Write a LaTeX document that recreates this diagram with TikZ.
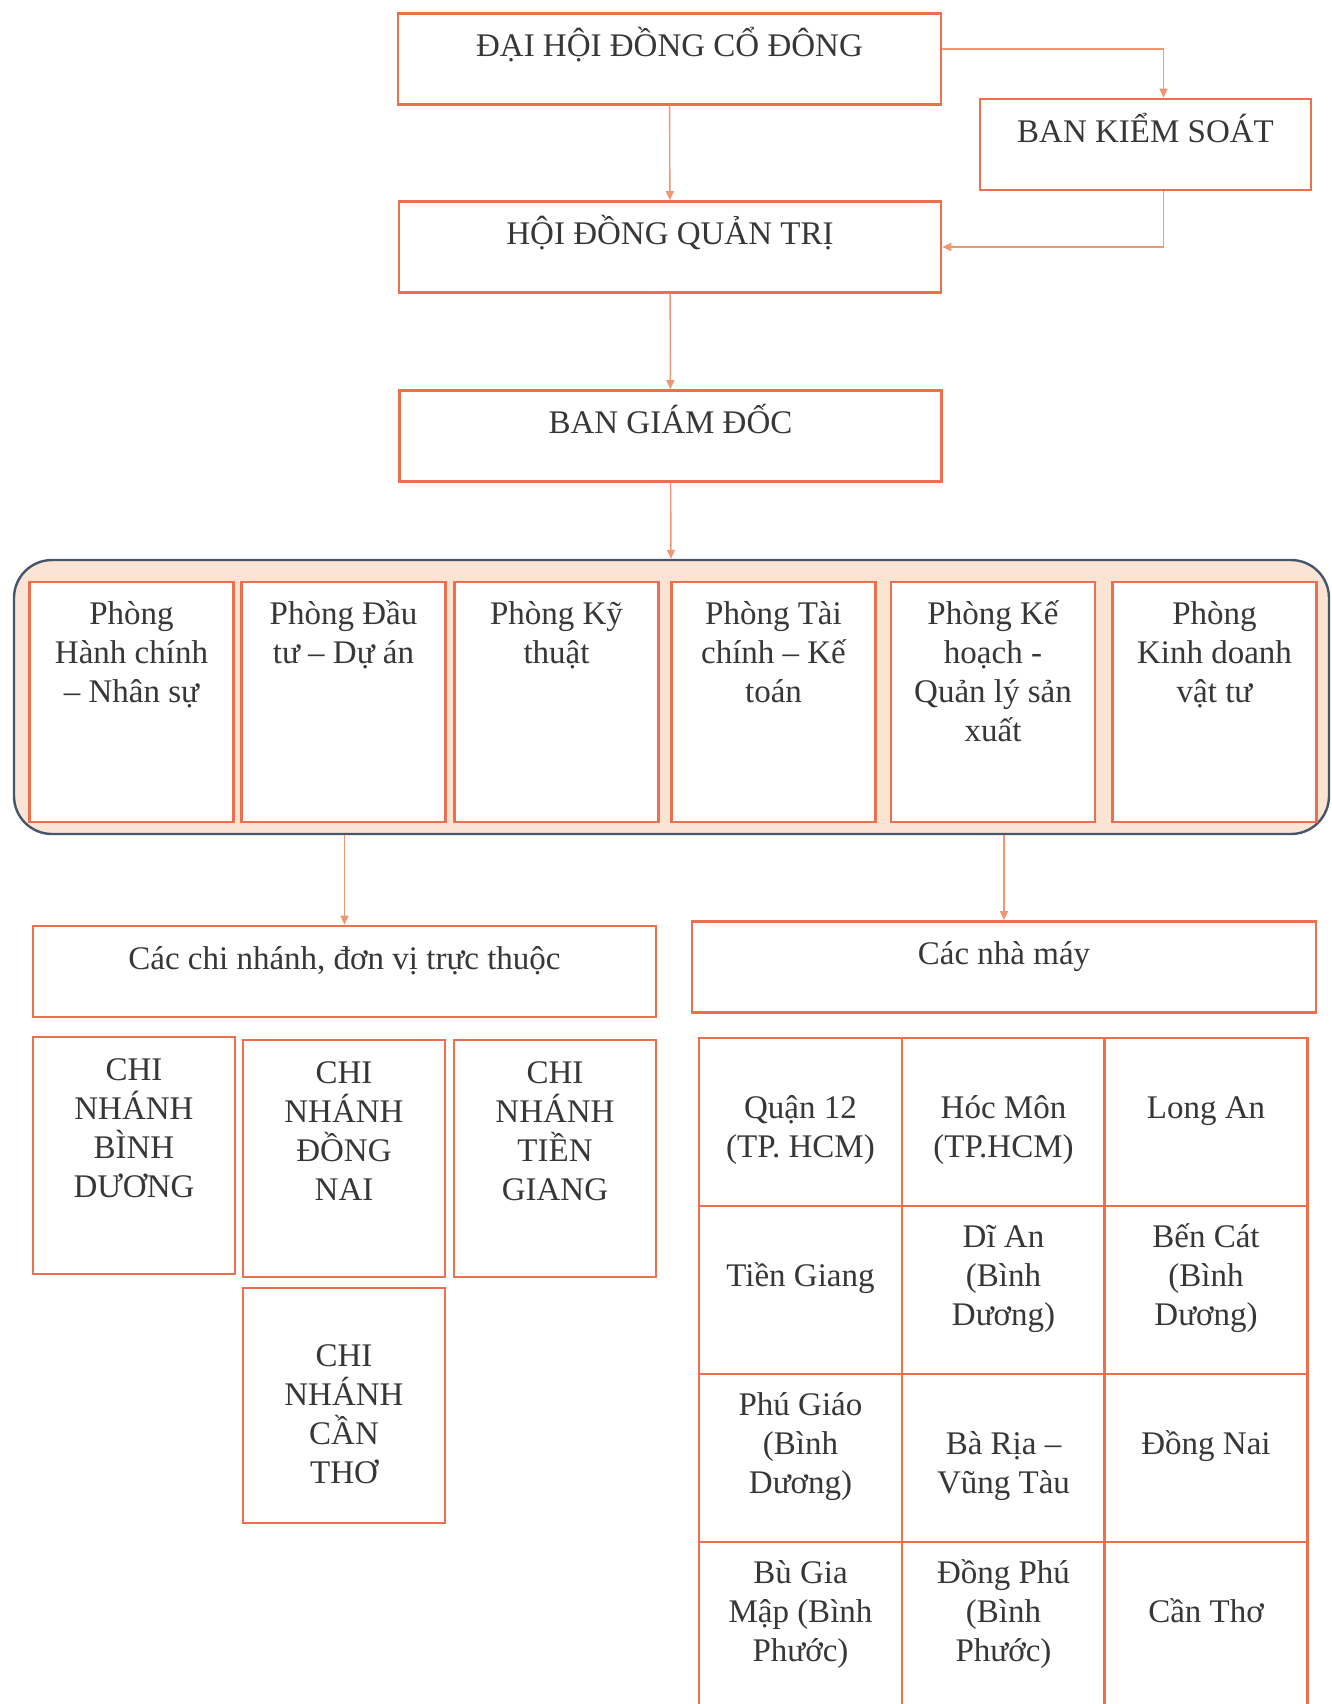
\documentclass[tikz,border=0pt]{standalone}
\usepackage{fontspec}
\setmainfont{Liberation Serif}
\usetikzlibrary{arrows.meta,positioning}
\definecolor{myorange}{RGB}{236,112,78}
\definecolor{mysalmon}{RGB}{240,150,115}
\definecolor{mypeach}{RGB}{252,228,212}
\definecolor{myslate}{RGB}{70,85,105}
\definecolor{mytext}{RGB}{55,55,55}
\newcommand{\boxfont}{\fontsize{16.5pt}{19.5pt}\selectfont}
\tikzset{
  orgbox/.style={draw=myorange,line width=1.3pt,fill=white,inner sep=0pt,align=center,text=mytext,font=\boxfont},
  titlebox/.style={orgbox,minimum width=#1,text height=21.5pt,text depth=24pt},
  deptbox/.style 2 args={orgbox,minimum width=102pt,text height=#1,text depth=#2},
  branchbox/.style 2 args={orgbox,minimum width=101pt,text height=#1,text depth=#2},
  cellone/.style={orgbox,minimum width=101.5pt,text height=40pt,text depth=44pt},
  cellmany/.style={orgbox,minimum width=101.5pt,text height=59.5pt,text depth=24.5pt},
}
\begin{document}
\begin{tikzpicture}[x=0.5pt,y=-0.5pt,
    arr/.style={-{Triangle[length=4.5pt,width=4pt]},draw=mysalmon,line width=0.7pt},
  ]
  \useasboundingbox (0,0) rectangle (1332,1704);

  % Top management
  \node[titlebox=271.5pt] (dhd) at (669.5,59) {ĐẠI HỘI ĐỒNG CỔ ĐÔNG};
  \node[titlebox=165.5pt] (bks) at (1145.5,144.5) {BAN KIỂM SOÁT};
  \node[titlebox=271pt] (hdqt) at (670,247) {HỘI ĐỒNG QUẢN TRỊ};
  \node[titlebox=271pt] (bgd) at (670.5,436) {BAN GIÁM ĐỐC};
  \draw[arr] ([yshift=5pt]dhd.east) -| ([xshift=9pt]bks.north);
  \draw[arr] ([xshift=9pt]bks.south) |- (hdqt.east);
  \draw[arr] (dhd) -- (hdqt);
  \draw[arr] (hdqt) -- (bgd);

  % Departments
  \node[draw=myslate,line width=1.2pt,fill=mypeach,rounded corners=19pt,minimum width=657.5pt,minimum height=137pt] (depts) at (671.5,697) {};
  \draw[arr] (bgd) -- (depts);
  \node[deptbox={60pt}{60pt}] (hcns) at (131.5,702) {Phòng\\Hành chính\\– Nhân sự};
  \node[deptbox={40.5pt}{79.5pt}] (dtda) at (343.5,702) {Phòng Đầu\\tư – Dự án};
  \node[deptbox={40.5pt}{79.5pt}] (kt) at (556.5,702) {Phòng Kỹ\\thuật};
  \node[deptbox={60pt}{60pt}] (tckt) at (773.5,702) {Phòng Tài\\chính – Kế\\toán};
  \node[deptbox={79.5pt}{40.5pt}] (khsx) at (993,702) {Phòng Kế\\hoạch -\\Quản lý sản\\xuất};
  \node[deptbox={60pt}{60pt}] (kdvt) at (1214.5,702) {Phòng\\Kinh doanh\\vật tư};

  % Branches
  \node[titlebox=311.5pt] (cn) at (344.5,971.5) {Các chi nhánh, đơn vị trực thuộc};
  \draw[arr] (cn.north |- depts.south) -- (cn.north);
  \node[branchbox={80pt}{38.5pt}] (cnbd) at (134,1155.5) {CHI\\NHÁNH\\BÌNH\\DƯƠNG};
  \node[branchbox={80pt}{38.5pt}] (cndn) at (344,1158.5) {CHI\\NHÁNH\\ĐỒNG\\NAI};
  \node[branchbox={80pt}{38.5pt}] (cntg) at (555,1158.5) {CHI\\NHÁNH\\TIỀN\\GIANG};
  \node[branchbox={97.5pt}{20pt}] (cnct) at (344,1405.5) {CHI\\NHÁNH\\CẦN\\THƠ};

  % Factories
  \node[titlebox=312pt] (nm) at (1004,967) {Các nhà máy};
  \draw[arr] (nm.north |- depts.south) -- (nm.north);
  \node[cellmany] (q12) at (800.5,1122) {Quận 12\\(TP. HCM)};
  \node[cellmany] (hm) at (1003.5,1122) {Hóc Môn\\(TP.HCM)};
  \node[cellone] (la) at (1206,1122) {Long An};
  \node[cellone] (tg) at (800.5,1290) {Tiền Giang};
  \node[cellmany] (da) at (1003.5,1290) {Dĩ An\\(Bình\\Dương)};
  \node[cellmany] (bc) at (1206,1290) {Bến Cát\\(Bình\\Dương)};
  \node[cellmany] (pg) at (800.5,1458) {Phú Giáo\\(Bình\\Dương)};
  \node[cellmany] (brvt) at (1003.5,1458) {Bà Rịa –\\Vũng Tàu};
  \node[cellone] (dn) at (1206,1458) {Đồng Nai};
  \node[cellmany] (bgm) at (800.5,1626) {Bù Gia\\Mập (Bình\\Phước)};
  \node[cellmany] (dp) at (1003.5,1626) {Đồng Phú\\(Bình\\Phước)};
  \node[cellone] (ct) at (1206,1626) {Cần Thơ};
\end{tikzpicture}
\end{document}
